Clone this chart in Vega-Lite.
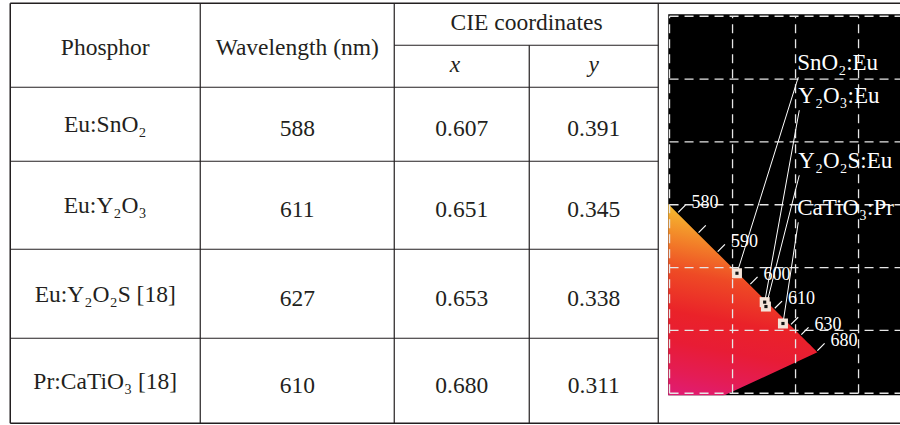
{
  "$schema": "https://vega.github.io/schema/vega-lite/v6.json",
  "padding": {"left": 9.25, "top": 2.25, "right": 0, "bottom": 0},
  "background": "white",
  "config": {"view": {"stroke": null}, "font": "Liberation Serif"},
  "datasets": {
    "phosphors": [
      {"Phosphor": "Eu:SnO₂", "Wavelength": 588, "x": 0.607, "y": 0.391},
      {"Phosphor": "Eu:Y₂O₃", "Wavelength": 611, "x": 0.651, "y": 0.345},
      {"Phosphor": "Eu:Y₂O₂S [18]", "Wavelength": 627, "x": 0.653, "y": 0.338},
      {"Phosphor": "Pr:CaTiO₃ [18]", "Wavelength": 610, "x": 0.680, "y": 0.311}
    ],
    "annotations": [
      {"Phosphor": "Eu:SnO₂", "figLabel": "SnO₂:Eu", "lx": 0.7043, "ly": 0.7029},
      {"Phosphor": "Eu:Y₂O₃", "figLabel": "Y₂O₃:Eu", "lx": 0.7059, "ly": 0.6504},
      {"Phosphor": "Eu:Y₂O₂S [18]", "figLabel": "Y₂O₂S:Eu", "lx": 0.7059, "ly": 0.5469},
      {"Phosphor": "Pr:CaTiO₃ [18]", "figLabel": "CaTiO₃:Pr", "lx": 0.7043, "ly": 0.4721}
    ],
    "locus": [
      {"wl": 380, "cx": 0.1741, "cy": 0.0050},
      {"wl": 575, "cx": 0.4788, "cy": 0.5202},
      {"wl": 580, "cx": 0.5125, "cy": 0.4866},
      {"wl": 585, "cx": 0.5448, "cy": 0.4544},
      {"wl": 590, "cx": 0.5752, "cy": 0.4242},
      {"wl": 595, "cx": 0.6029, "cy": 0.3965},
      {"wl": 600, "cx": 0.6270, "cy": 0.3725},
      {"wl": 605, "cx": 0.6482, "cy": 0.3514},
      {"wl": 610, "cx": 0.6658, "cy": 0.3340},
      {"wl": 615, "cx": 0.6801, "cy": 0.3197},
      {"wl": 620, "cx": 0.6915, "cy": 0.3083},
      {"wl": 625, "cx": 0.7006, "cy": 0.2993},
      {"wl": 630, "cx": 0.7079, "cy": 0.2920},
      {"wl": 635, "cx": 0.7140, "cy": 0.2859},
      {"wl": 640, "cx": 0.7190, "cy": 0.2809},
      {"wl": 645, "cx": 0.7230, "cy": 0.2770},
      {"wl": 650, "cx": 0.7260, "cy": 0.2740},
      {"wl": 655, "cx": 0.7283, "cy": 0.2717},
      {"wl": 660, "cx": 0.7300, "cy": 0.2700},
      {"wl": 665, "cx": 0.7311, "cy": 0.2689},
      {"wl": 670, "cx": 0.7320, "cy": 0.2680},
      {"wl": 675, "cx": 0.7327, "cy": 0.2673},
      {"wl": 680, "cx": 0.7334, "cy": 0.2666},
      {"wl": 690, "cx": 0.7344, "cy": 0.2656},
      {"wl": 700, "cx": 0.7347, "cy": 0.2653}
    ],
    "grid": [{"g": 0.2}, {"g": 0.3}, {"g": 0.4}, {"g": 0.5}, {"g": 0.6}, {"g": 0.7}, {"g": 0.8}]
  },
  "hconcat": [
    {
      "width": 648,
      "height": 420,
      "data": {"values": [{}]},
      "layer": [
        {"mark": {"type": "rule", "stroke": "#231f20", "strokeWidth": 1.5},
         "encoding": {
           "x": {"datum": 0, "type": "quantitative", "axis": null, "scale": {"domain": [0, 1, 2, 3, 4, 5], "range": [0, 190, 384, 519, 648, 890], "nice": false, "zero": false}},
           "x2": {"datum": 5},
           "y": {"datum": -0.5, "type": "quantitative", "axis": null, "scale": {"domain": [-0.5, 0, 0.5, 1.5, 2.5, 3.5, 4.5], "range": [0, 42, 84, 158, 246, 335, 420], "nice": false, "zero": false}}}},
        {"mark": {"type": "rule", "stroke": "#231f20", "strokeWidth": 1.5},
         "encoding": {"x": {"datum": 0, "type": "quantitative", "axis": null}, "x2": {"datum": 5}, "y": {"datum": 4.5, "type": "quantitative", "axis": null}}},
        {"mark": {"type": "rule", "stroke": "#231f20", "strokeWidth": 1.5},
         "encoding": {"x": {"datum": 0, "type": "quantitative", "axis": null}, "y": {"datum": -0.5, "type": "quantitative", "axis": null}, "y2": {"datum": 4.5}}},
        {"mark": {"type": "rule", "stroke": "#231f20", "strokeWidth": 1.2},
         "encoding": {"x": {"datum": 4, "type": "quantitative", "axis": null}, "y": {"datum": -0.5, "type": "quantitative", "axis": null}, "y2": {"datum": 4.5}}},
        {"mark": {"type": "rule", "stroke": "#231f20", "strokeWidth": 1.2},
         "encoding": {"x": {"datum": 1, "type": "quantitative", "axis": null}, "y": {"datum": -0.5, "type": "quantitative", "axis": null}, "y2": {"datum": 4.5}}},
        {"mark": {"type": "rule", "stroke": "#231f20", "strokeWidth": 1.2},
         "encoding": {"x": {"datum": 2, "type": "quantitative", "axis": null}, "y": {"datum": -0.5, "type": "quantitative", "axis": null}, "y2": {"datum": 4.5}}},
        {"mark": {"type": "rule", "stroke": "#231f20", "strokeWidth": 1.2},
         "encoding": {"x": {"datum": 3, "type": "quantitative", "axis": null}, "y": {"datum": 0, "type": "quantitative", "axis": null}, "y2": {"datum": 4.5}}},
        {"mark": {"type": "rule", "stroke": "#231f20", "strokeWidth": 1.2},
         "encoding": {"x": {"datum": 2, "type": "quantitative", "axis": null}, "x2": {"datum": 4}, "y": {"datum": 0, "type": "quantitative", "axis": null}}},
        {"mark": {"type": "rule", "stroke": "#231f20", "strokeWidth": 1.2},
         "encoding": {"x": {"datum": 0, "type": "quantitative", "axis": null}, "x2": {"datum": 4}, "y": {"datum": 0.5, "type": "quantitative", "axis": null}}},
        {"mark": {"type": "rule", "stroke": "#231f20", "strokeWidth": 1.2},
         "encoding": {"x": {"datum": 0, "type": "quantitative", "axis": null}, "x2": {"datum": 4}, "y": {"datum": 1.5, "type": "quantitative", "axis": null}}},
        {"mark": {"type": "rule", "stroke": "#231f20", "strokeWidth": 1.2},
         "encoding": {"x": {"datum": 0, "type": "quantitative", "axis": null}, "x2": {"datum": 4}, "y": {"datum": 2.5, "type": "quantitative", "axis": null}}},
        {"mark": {"type": "rule", "stroke": "#231f20", "strokeWidth": 1.2},
         "encoding": {"x": {"datum": 0, "type": "quantitative", "axis": null}, "x2": {"datum": 4}, "y": {"datum": 3.5, "type": "quantitative", "axis": null}}},
        {"mark": {"type": "text", "font": "Liberation Serif", "fontSize": 23.5, "color": "#231f20", "baseline": "alphabetic", "dy": 10},
         "encoding": {"x": {"datum": 0.5, "type": "quantitative", "axis": null}, "y": {"datum": 0, "type": "quantitative", "axis": null}, "text": {"value": "Phosphor"}}},
        {"mark": {"type": "text", "font": "Liberation Serif", "fontSize": 23.5, "color": "#231f20", "baseline": "alphabetic", "dy": 10},
         "encoding": {"x": {"datum": 1.5, "type": "quantitative", "axis": null}, "y": {"datum": 0, "type": "quantitative", "axis": null}, "text": {"value": "Wavelength (nm)"}}},
        {"mark": {"type": "text", "font": "Liberation Serif", "fontSize": 23.5, "color": "#231f20", "baseline": "alphabetic", "dy": 6},
         "encoding": {"x": {"datum": 2.98, "type": "quantitative", "axis": null}, "y": {"datum": -0.25, "type": "quantitative", "axis": null}, "text": {"value": "CIE coordinates"}}},
        {"mark": {"type": "text", "font": "Liberation Serif", "fontSize": 23.5, "fontStyle": "italic", "color": "#231f20", "baseline": "alphabetic", "dy": 6},
         "encoding": {"x": {"datum": 2.45, "type": "quantitative", "axis": null}, "y": {"datum": 0.25, "type": "quantitative", "axis": null}, "text": {"value": "x"}}},
        {"mark": {"type": "text", "font": "Liberation Serif", "fontSize": 23.5, "fontStyle": "italic", "color": "#231f20", "baseline": "alphabetic", "dy": 6},
         "encoding": {"x": {"datum": 3.5, "type": "quantitative", "axis": null}, "y": {"datum": 0.25, "type": "quantitative", "axis": null}, "text": {"value": "y"}}},
        {"data": {"name": "phosphors"},
         "transform": [{"window": [{"op": "row_number", "as": "r"}]}],
         "mark": {"type": "text", "font": "Liberation Serif", "fontSize": 23.5, "color": "#231f20", "baseline": "alphabetic", "dy": 8},
         "encoding": {"x": {"datum": 0.5, "type": "quantitative", "axis": null}, "y": {"field": "r", "type": "quantitative", "axis": null}, "text": {"field": "Phosphor"}}},
        {"data": {"name": "phosphors"},
         "transform": [{"window": [{"op": "row_number", "as": "r"}]}],
         "mark": {"type": "text", "font": "Liberation Serif", "fontSize": 23.5, "color": "#231f20", "baseline": "alphabetic", "dy": 12},
         "encoding": {"x": {"datum": 1.5, "type": "quantitative", "axis": null}, "y": {"field": "r", "type": "quantitative", "axis": null}, "text": {"field": "Wavelength"}}},
        {"data": {"name": "phosphors"},
         "transform": [{"window": [{"op": "row_number", "as": "r"}]}],
         "mark": {"type": "text", "font": "Liberation Serif", "fontSize": 23.5, "color": "#231f20", "baseline": "alphabetic", "dy": 12},
         "encoding": {"x": {"datum": 2.5, "type": "quantitative", "axis": null}, "y": {"field": "r", "type": "quantitative", "axis": null}, "text": {"field": "x", "format": ".3f"}}},
        {"data": {"name": "phosphors"},
         "transform": [{"window": [{"op": "row_number", "as": "r"}]}],
         "mark": {"type": "text", "font": "Liberation Serif", "fontSize": 23.5, "color": "#231f20", "baseline": "alphabetic", "dy": 12},
         "encoding": {"x": {"datum": 3.5, "type": "quantitative", "axis": null}, "y": {"field": "r", "type": "quantitative", "axis": null}, "text": {"field": "y", "format": ".3f"}}}
      ]
    },
    {
      "width": 232,
      "height": 392,
      "data": {"values": [{}]},
      "layer": [
        {"mark": {"type": "rect", "color": "#000000"},
         "encoding": {
           "x": {"datum": 0.49794, "type": "quantitative", "axis": null, "scale": {"domain": [0.49794, 0.86619], "nice": false, "zero": false}},
           "x2": {"datum": 0.86619},
           "y": {"datum": 0.19682, "type": "quantitative", "axis": null, "scale": {"domain": [0.19682, 0.82069], "nice": false, "zero": false}},
           "y2": {"datum": 0.80318}}},
        {"data": {"name": "locus"},
         "mark": {"type": "line", "clip": true, "strokeWidth": 0, "fill": {"gradient": "linear", "x1": 0.7, "y1": 0, "x2": 0.55, "y2": 0.75,
           "stops": [
             {"offset": 0, "color": "#f8cc36"},
             {"offset": 0.1, "color": "#f5b42e"},
             {"offset": 0.23, "color": "#f27a28"},
             {"offset": 0.34, "color": "#ee4a25"},
             {"offset": 0.5, "color": "#ea2229"},
             {"offset": 0.62, "color": "#e81c35"},
             {"offset": 0.74, "color": "#e41c55"},
             {"offset": 0.85, "color": "#df1c7a"},
             {"offset": 1, "color": "#d81a95"}]}},
         "encoding": {"x": {"field": "cx", "type": "quantitative", "axis": null}, "y": {"field": "cy", "type": "quantitative", "axis": null}, "order": {"field": "wl"}}},
        {"data": {"name": "grid"},
         "mark": {"type": "rule", "stroke": "#e6e6e6", "strokeWidth": 1.3, "strokeDash": [9, 6], "clip": true},
         "encoding": {"y": {"field": "g", "type": "quantitative", "axis": null}, "x": {"datum": 0.5, "type": "quantitative", "axis": null}, "x2": {"datum": 0.9}}},
        {"data": {"name": "grid"},
         "transform": [{"filter": {"field": "g", "gte": 0.5}}],
         "mark": {"type": "rule", "stroke": "#e6e6e6", "strokeWidth": 1.3, "strokeDash": [9, 6]},
         "encoding": {"x": {"field": "g", "type": "quantitative", "axis": null}, "y": {"datum": 0.2, "type": "quantitative", "axis": null}, "y2": {"datum": 0.8}}},
        {"data": {"name": "locus"},
         "transform": [{"filter": {"field": "wl", "oneOf": [580, 585, 590, 600, 610, 620, 630, 680]}}],
         "mark": {"type": "point", "shape": "M0.1,-0.1L1,-1", "size": 256, "filled": false, "stroke": "#ffffff", "strokeWidth": 1.2, "opacity": 1},
         "encoding": {"x": {"field": "cx", "type": "quantitative", "axis": null}, "y": {"field": "cy", "type": "quantitative", "axis": null}}},
        {"data": {"name": "locus"},
         "transform": [{"filter": {"field": "wl", "oneOf": [580, 590, 600, 610, 630, 680]}}],
         "mark": {"type": "text", "font": "Liberation Serif", "fontSize": 18, "color": "#ffffff", "align": "left", "baseline": "alphabetic", "dx": 14, "dy": -5},
         "encoding": {"x": {"field": "cx", "type": "quantitative", "axis": null}, "y": {"field": "cy", "type": "quantitative", "axis": null}, "text": {"field": "wl"}}},
        {"data": {"name": "annotations"},
         "transform": [{"lookup": "Phosphor", "from": {"data": {"name": "phosphors"}, "key": "Phosphor", "fields": ["x", "y"]}}],
         "mark": {"type": "rule", "stroke": "#ffffff", "strokeWidth": 1},
         "encoding": {"x": {"field": "lx", "type": "quantitative", "axis": null}, "y": {"field": "ly", "type": "quantitative", "axis": null}, "x2": {"field": "x"}, "y2": {"field": "y"}}},
        {"data": {"name": "phosphors"},
         "mark": {"type": "point", "shape": "square", "size": 100, "filled": true, "color": "#f3e3d8", "opacity": 1},
         "encoding": {"x": {"field": "x", "type": "quantitative", "axis": null}, "y": {"field": "y", "type": "quantitative", "axis": null}}},
        {"data": {"name": "phosphors"},
         "mark": {"type": "point", "shape": "square", "size": 10, "filled": true, "color": "#111111", "opacity": 1},
         "encoding": {"x": {"field": "x", "type": "quantitative", "axis": null}, "y": {"field": "y", "type": "quantitative", "axis": null}}},
        {"data": {"name": "annotations"},
         "mark": {"type": "text", "font": "Liberation Serif", "fontSize": 23, "color": "#ffffff", "align": "left", "baseline": "alphabetic", "dx": -1, "dy": -7, "clip": true},
         "encoding": {"x": {"field": "lx", "type": "quantitative", "axis": null}, "y": {"field": "ly", "type": "quantitative", "axis": null}, "text": {"field": "figLabel"}}}
      ]
    }
  ],
  "spacing": 10,
  "bounds": "flush"
}
